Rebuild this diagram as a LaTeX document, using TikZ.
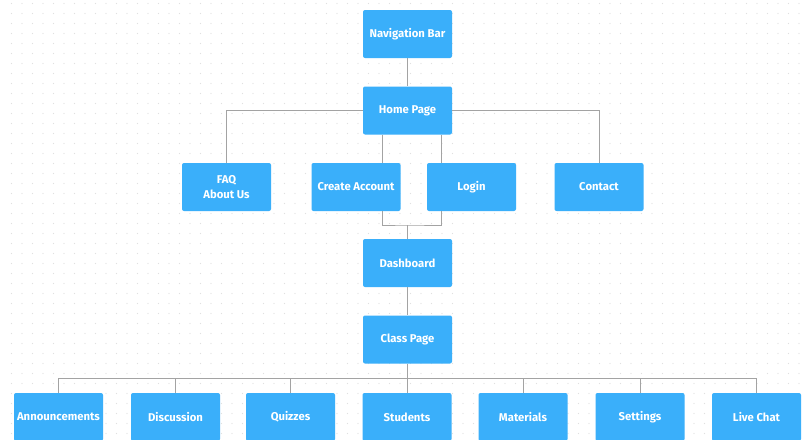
\documentclass[tikz,border=0pt]{standalone}
\usepackage{fontspec}
\setmainfont{Fira Sans}
\definecolor{boxblue}{HTML}{3AAFFA}
\definecolor{linegray}{HTML}{A3A3A3}
\definecolor{dotgray}{HTML}{E0E0E0}
\begin{document}
\begin{tikzpicture}[x=1pt,y=-1pt,
  box/.style={rectangle, fill=boxblue, rounded corners=2pt, minimum width=89pt, minimum height=48pt,
    inner sep=0pt, text=white, font=\bfseries\fontsize{11.3}{14.5}\selectfont, align=center},
  conn/.style={draw=linegray, line width=1pt}]
\useasboundingbox (0,0) rectangle (805,439);
\fill[white] (0,0) rectangle (805,439);
% dot grid
\foreach \i in {0,...,76}{
  \foreach \j in {0,...,43}{
    \fill[dotgray] (11.5+10.5*\i, 3.5+10*\j) circle (0.6pt);
  }
}
\node[box] (nav) at (407.5,34) {Navigation Bar};
\node[box] (home) at (407.5,110.5) {Home Page};
\node[box] (faq) at (226.5,187) {FAQ\\About Us};
\node[box] (create) at (356,187) {Create Account};
\node[box] (login) at (471.5,187) {Login};
\node[box] (contact) at (599,187) {Contact};
\node[box] (dash) at (407.5,263) {Dashboard};
\node[box] (class) at (407.5,339.5) {Class Page};
\node[box] (b1) at (58.5,417) {Announcements};
\node[box] (b2) at (175.5,417) {Discussion};
\node[box] (b3) at (290.5,417) {Quizzes};
\node[box] (b4) at (407,417) {Students};
\node[box] (b5) at (523,417) {Materials};
\node[box] (b6) at (640,417) {Settings};
\node[box] (b7) at (756.5,417) {Live Chat};

\coordinate (ca) at (382,0);
\coordinate (lg) at (441,0);
\coordinate (merge) at (407.5,225);
\coordinate (bus) at (0,378);

\draw[conn] (nav.south) -- (home.north);
\draw[conn] (home.west) -| (faq.north);
\draw[conn] (home.east) -| (contact.north);
\draw[conn] (home.south -| ca) -- (create.north -| ca);
\draw[conn] (home.south -| lg) -- (login.north -| lg);
\draw[conn] (create.south -| ca) |- (merge) -| (login.south -| lg);
\draw[conn] (merge) -- (dash.north);
\draw[conn] (dash.south) -- (class.north);
\draw[conn] (class.south) -- (class.south |- bus);
\draw[conn] (b1.north |- bus) -- (b7.north |- bus);
\foreach \b in {b1,b2,b3,b4,b5,b6,b7}{
  \draw[conn] (\b.north) -- (\b.north |- bus);
}
\end{tikzpicture}
\end{document}
